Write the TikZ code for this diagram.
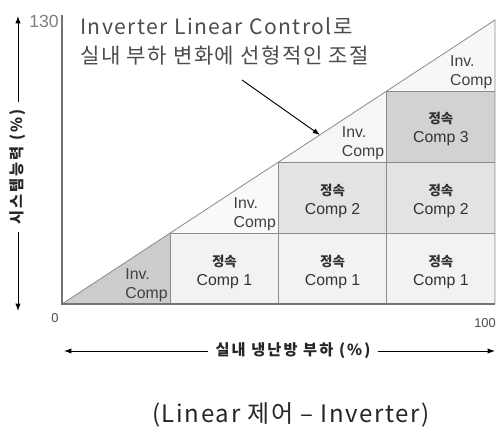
\documentclass[tikz,border=0pt]{standalone}
\usepackage{fontspec}
\setmainfont{Liberation Sans}
\newfontfamily\kr{Noto Sans CJK KR}
\newfontfamily\krwide{Noto Sans CJK KR}[LetterSpace=7]
\newfontfamily\krax{Noto Sans CJK KR}[LetterSpace=14]
\usetikzlibrary{arrows.meta}

\begin{document}
\begin{tikzpicture}[x=0.03cm, y=0.03cm, >={Latex[length=2.2mm,width=1.6mm]},
    gridline/.style={black!45, line width=0.7pt},
    invlab/.style={anchor=south east, align=left, inner sep=2pt, text=black!75,
      font=\fontsize{13.5}{15.5}\selectfont},
    fixlab/.style={align=center, text=black!80, font=\fontsize{13.5}{16.5}\selectfont},
    axlab/.style={text=black!85, inner sep=6pt, font=\krax\bfseries\fontsize{13}{14}\selectfont}]
  \useasboundingbox[fill=white] (0,0) rectangle (498,434);
  % capacity steps
  \fill[gray!40] (62,130) -- (170.25,130) -- (170.25,201) -- cycle;
  \fill[gray!10] (170.25,130) rectangle (495,201);
  \fill[gray!5] (170.25,201) -- (278.5,201) -- (278.5,272) -- cycle;
  \fill[gray!22] (278.5,201) rectangle (495,272);
  \fill[gray!7] (278.5,272) -- (386.75,272) -- (386.75,343) -- cycle;
  \fill[gray!35] (386.75,272) rectangle (495,343);
  \fill[gray!6] (386.75,343) -- (495,343) -- (495,414) -- cycle;
  \draw[gridline] (62,130) -- (495,414) -- (495,130);
  \draw[gridline] (170.25,130) -- (170.25,201) -- (495,201);
  \draw[gridline] (278.5,130) -- (278.5,272) -- (495,272);
  \draw[gridline] (386.75,130) -- (386.75,343) -- (495,343);
  % axes
  \draw[black!55, line width=1.4pt] (62,419) -- (62,130) -- (495,130);
  \node[text=black!50, font=\fontsize{15}{15}\selectfont, anchor=north east, inner sep=1pt] (ymax) at (60,420) {130};
  \node[text=black!70, font=\fontsize{11}{11}\selectfont] (xmin) at (55,116) {0};
  \node[text=black!70, font=\fontsize{11}{11}\selectfont, anchor=east, inner sep=0pt] (xmax) at (496,111) {100};
  % cell labels
  \node[invlab] (inv1) at (170.25,130) {Inv.\\Comp};
  \node[invlab] (inv2) at (278.5,201) {Inv.\\Comp};
  \node[invlab] (inv3) at (386.75,272) {Inv.\\Comp};
  \node[invlab] (inv4) at (495,343) {Inv.\\Comp};
  \node[fixlab] (c11) at (224.4,162) {{\kr\bfseries\fontsize{11.5}{12}\selectfont 정속}\\Comp 1};
  \node[fixlab] (c21) at (332.6,162) {{\kr\bfseries\fontsize{11.5}{12}\selectfont 정속}\\Comp 1};
  \node[fixlab] (c31) at (440.9,162) {{\kr\bfseries\fontsize{11.5}{12}\selectfont 정속}\\Comp 1};
  \node[fixlab] (c22) at (332.6,233) {{\kr\bfseries\fontsize{11.5}{12}\selectfont 정속}\\Comp 2};
  \node[fixlab] (c32) at (440.9,233) {{\kr\bfseries\fontsize{11.5}{12}\selectfont 정속}\\Comp 2};
  \node[fixlab] (c33) at (440.9,305) {{\kr\bfseries\fontsize{11.5}{12}\selectfont 정속}\\Comp 3};
  % note
  \node[anchor=north west, align=left, text=black!70, inner sep=0pt,
    font=\krwide\fontsize{18}{25.5}\selectfont] (note) at (80,417)
    {Inverter Linear Control로\\실내 부하 변화에 선형적인 조절};
  \coordinate (notefrom) at (242,354);
  \coordinate (noteto) at (320,299);
  \draw[->, thick] (notefrom) -- (noteto);
  % axis titles
  \node[axlab, rotate=90] (ylab) at (18,267) {시스템능력 (\%)};
  \coordinate (ytop) at (18,418);
  \coordinate (ybot) at (18,123);
  \draw[->, thick] (ylab.east) -- (ytop);
  \draw[->, thick] (ylab.west) -- (ybot);
  \node[axlab] (xlab) at (293,83) {실내 냉난방 부하 (\%)};
  \coordinate (xleft) at (64,83);
  \coordinate (xright) at (495,83);
  \draw[->, thick] (xlab.west) -- (xleft);
  \draw[->, thick] (xlab.east) -- (xright);
  \node[text=black!85, font=\krwide\fontsize{20.5}{20.5}\selectfont] (title) at (291,19) {(Linear 제어 – Inverter)};
\end{tikzpicture}
\end{document}
